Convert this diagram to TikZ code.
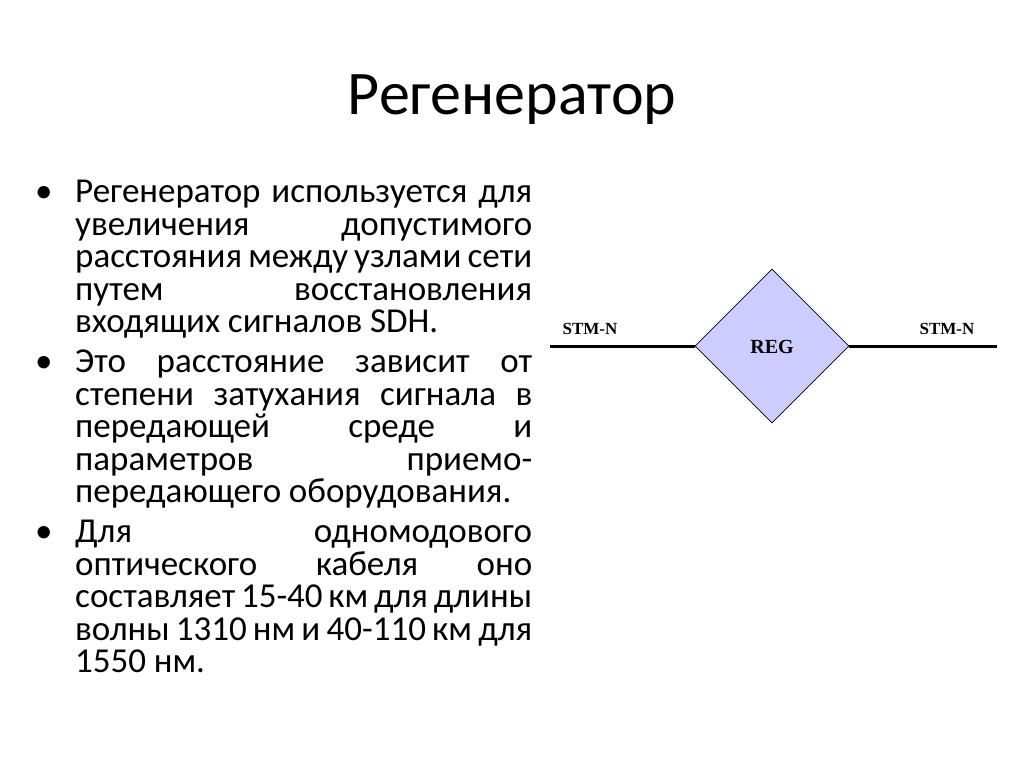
\documentclass[tikz,border=0pt]{standalone}
\usepackage{fontspec}
\setmainfont{Carlito}
\newfontfamily\serif{Liberation Serif}
\usetikzlibrary{shapes.geometric}
\tikzset{lbl/.style={font=\serif\bfseries\fontsize{17}{20}\selectfont},
wire/.style={line width=3pt}}
\begin{document}
\begin{tikzpicture}[x=1pt,y=-1pt]
\useasboundingbox (0,0) rectangle (1024,767);
\node (title) at (512,100) {\fontsize{62}{70}\selectfont Регенератор};
\node[anchor=north west,inner sep=0pt,text width=497pt,align=justify] (body) at (35,180) {%
\fontsize{35}{32.5}\selectfont\hyphenpenalty=10000\parskip=7.5pt
\spaceskip=0.22em plus 1em minus 0.1em\tolerance=10000\hbadness=10000
\hangindent=40pt\hangafter=1\noindent\makebox[40pt][l]{•}Регенератор используется для\linebreak
увеличения допустимого\linebreak расстояния между узлами сети\linebreak путем восстановления\linebreak входящих сигналов SDH.\par
\hangindent=40pt\hangafter=1\noindent\makebox[40pt][l]{•}Это расстояние зависит от\linebreak степени затухания сигнала в\linebreak передающей среде и\linebreak параметров приемо-\linebreak передающего оборудования.\par
\hangindent=40pt\hangafter=1\noindent\makebox[40pt][l]{•}Для одномодового\linebreak оптического кабеля оно\linebreak составляет 15-40 км для длины\linebreak волны 1310 нм и 40-110 км для\linebreak 1550 нм.\par};
\node[diamond,draw,line width=0.8pt,fill={rgb,255:red,204;green,204;blue,255},minimum width=154pt,minimum height=154pt,inner sep=0pt] (reg) at (772,346) {};
\node[font=\serif\bfseries\fontsize{20}{24}\selectfont] (regl) at (772,347) {REG};
\coordinate (l) at (550,346);
\coordinate (r) at (997,346);
\draw[wire] (l) -- (reg.west);
\draw[wire] (reg.east) -- (r);
\node[lbl] (s1) at (590,329) {STM-N};
\node[lbl] (s2) at (947,329) {STM-N};
\end{tikzpicture}
\end{document}
